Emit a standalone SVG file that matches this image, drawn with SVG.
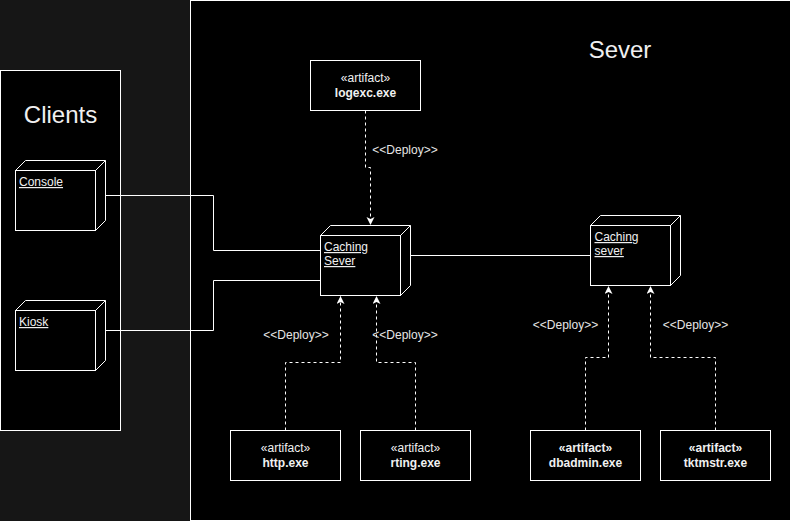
<svg xmlns="http://www.w3.org/2000/svg" width="791" height="521" viewBox="0 0 791 521">
<style>
.box{fill:#000;stroke:#fff;stroke-width:1}
.ln{fill:none;stroke:#fff;stroke-width:1}
.dash{fill:none;stroke:#fff;stroke-width:1;stroke-dasharray:3 3}
text{font-family:"Liberation Sans",Arial,sans-serif;fill:#f0f0f0}
.title{font-size:24px;text-anchor:middle}
.lbl{font-size:12px;text-decoration:underline}
.art{font-size:12px;text-anchor:middle}
.b{font-weight:bold}
.dep{font-size:12px;text-anchor:middle;fill:#e6e6e6}
</style>
<defs>
<marker id="arr" markerWidth="10" markerHeight="10" refX="8" refY="4" orient="auto" markerUnits="userSpaceOnUse">
<path d="M0,0 L8,4 L0,8 L2,4 Z" fill="#fff"/>
</marker>
</defs>
<rect x="0" y="0" width="791" height="521" fill="#161616"/>
<g id="server-area">
<rect class="box" x="190.5" y="0.5" width="600" height="520"/>
<text class="title" x="620" y="58">Sever</text>
</g>
<g id="clients-area">
<rect class="box" x="0.5" y="70.5" width="120" height="360"/>
<text class="title" x="60.5" y="123">Clients</text>
</g>
<g id="connectors">
<path class="ln" d="M105.5,195.5 H213.5 V250.5 H320.5"/>
<path class="ln" d="M105.5,330.5 H213.5 V280.5 H320.5"/>
<path class="ln" d="M410.5,255.5 H590.5"/>
<path class="dash" d="M365.5,110.5 V167.5 H370.5 V225" marker-end="url(#arr)"/>
<path class="dash" d="M285.5,430.5 V362.5 H340.5 V296" marker-end="url(#arr)"/>
<path class="dash" d="M415.5,430.5 V362.5 H376.5 V296" marker-end="url(#arr)"/>
<path class="dash" d="M585.5,430.5 V357.5 H608.5 V286" marker-end="url(#arr)"/>
<path class="dash" d="M715.5,430.5 V357.5 H650.5 V286" marker-end="url(#arr)"/>
<text class="dep" x="405" y="154">&lt;&lt;Deploy&gt;&gt;</text>
<text class="dep" x="296" y="339">&lt;&lt;Deploy&gt;&gt;</text>
<text class="dep" x="405" y="339">&lt;&lt;Deploy&gt;&gt;</text>
<text class="dep" x="565.5" y="329">&lt;&lt;Deploy&gt;&gt;</text>
<text class="dep" x="695.5" y="329">&lt;&lt;Deploy&gt;&gt;</text>
</g>
<g id="console">
<rect class="box" x="15.5" y="170.5" width="80" height="60"/>
<path class="ln" d="M15.5,170.5 L25.5,160.5 H105.5 V220.5 L95.5,230.5 M95.5,170.5 L105.5,160.5"/>
<text class="lbl" x="19" y="186">Console</text>
</g>
<g id="kiosk">
<rect class="box" x="15.5" y="310.5" width="80" height="60"/>
<path class="ln" d="M15.5,310.5 L25.5,300.5 H105.5 V360.5 L95.5,370.5 M95.5,310.5 L105.5,300.5"/>
<text class="lbl" x="19" y="326">Kiosk</text>
</g>
<g id="caching-sever-1">
<rect class="box" x="320.5" y="235.5" width="80" height="60"/>
<path class="ln" d="M320.5,235.5 L330.5,225.5 H410.5 V285.5 L400.5,295.5 M400.5,235.5 L410.5,225.5"/>
<text class="lbl" x="324" y="251">Caching</text>
<text class="lbl" x="324" y="265">Sever</text>
</g>
<g id="caching-sever-2">
<rect class="box" x="590.5" y="225.5" width="80" height="60"/>
<path class="ln" d="M590.5,225.5 L600.5,215.5 H680.5 V275.5 L670.5,285.5 M670.5,225.5 L680.5,215.5"/>
<text class="lbl" x="594.5" y="241">Caching</text>
<text class="lbl" x="594.5" y="255">sever</text>
</g>
<g id="logexc">
<rect class="box" x="310.5" y="60.5" width="110" height="50"/>
<text class="art" x="365.5" y="81.5">«artifact»</text>
<text class="art b" x="365.5" y="96.5">logexc.exe</text>
</g>
<g id="http">
<rect class="box" x="230.5" y="430.5" width="110" height="50"/>
<text class="art" x="285.5" y="451.5">«artifact»</text>
<text class="art b" x="285.5" y="466.5">http.exe</text>
</g>
<g id="rting">
<rect class="box" x="360.5" y="430.5" width="110" height="50"/>
<text class="art" x="415.5" y="451.5">«artifact»</text>
<text class="art b" x="415.5" y="466.5">rting.exe</text>
</g>
<g id="dbadmin">
<rect class="box" x="530.5" y="430.5" width="110" height="50"/>
<text class="art b" x="585.5" y="451.5">«artifact»</text>
<text class="art b" x="585.5" y="466.5">dbadmin.exe</text>
</g>
<g id="tktmstr">
<rect class="box" x="660.5" y="430.5" width="110" height="50"/>
<text class="art b" x="715.5" y="451.5">«artifact»</text>
<text class="art b" x="715.5" y="466.5">tktmstr.exe</text>
</g>
</svg>
